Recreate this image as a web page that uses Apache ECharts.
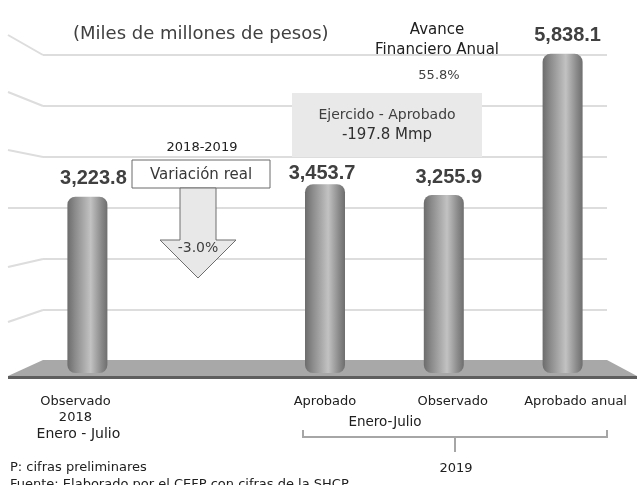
<!DOCTYPE html>
<html>
<head>
<meta charset="utf-8">
<script src="https://cdn.jsdelivr.net/npm/echarts@6/dist/echarts.min.js"></script>
<style>
  html, body { margin: 0; padding: 0; background: #fff; }
  #chart { width: 637px; height: 485px; }
</style>
</head>
<body>
<div id="chart"></div>
<script>
// categorias (la segunda queda vacia: ahi va la flecha de variacion)
const categories = ['Observado 2018', '', 'Aprobado', 'Observado', 'Aprobado anual']
const values = [3223.8, null, 3453.7, 3255.9, 5838.1]
const labelDistance = [8, 0, 1, 8, 8]
const labelShift = [6, 0, -3, 5, 5]
const wallTicks = [0, 1, 2, 3, 4, 5, 6] // lineas de la pared del fondo

const avanceTxt = '55.8%'
const diferenciaTxt = '-197.8 Mmp'
const variacionTxt = '-3.0%'

const font = "'DejaVu Sans', 'Noto Sans', sans-serif"
const txtColor = '#404040'

function fmt(v) {
  return v.toLocaleString('en-US', { minimumFractionDigits: 1, maximumFractionDigits: 1 })
}

const chart = echarts.init(document.getElementById('chart'))

const barData = values.map(function(v, i) {
  if (v === null) return '-'
  return { value: v, label: { distance: labelDistance[i], offset: [labelShift[i], 0] } }
})

chart.setOption({
  animation: false,
  title: {
    text: '(Miles de millones de pesos)',
    left: 68,
    top: 20,
    textStyle: { fontFamily: font, fontSize: 18, fontWeight: 'normal', color: txtColor }
  },
  grid: [
    { left: 28, right: 15, top: 45, bottom: 112 },
    { left: 43, right: 30, top: 55, bottom: 124 }
  ],
  xAxis: [{
    type: 'category',
    data: categories,
    gridIndex: 0,
    axisLine: { show: false },
    axisTick: { show: false },
    axisLabel: {
      interval: 0,
      margin: 21,
      formatter: function(v, i) {
        if (i === 0) return '{l|Observado}\n{l|2018}\n{c|Enero - Julio}'
        if (i === 3) return '{m|' + v + '}'
        if (i === 4) return '{r|' + v + '}'
        return '{a|' + v + '}'
      },
      rich: {
        a: { fontFamily: font, fontSize: 13, color: '#202020', lineHeight: 16 },
        l: { fontFamily: font, fontSize: 13, color: '#202020', lineHeight: 16, padding: [0, 24, 0, 0] },
        c: { fontFamily: font, fontSize: 14, color: '#202020', lineHeight: 16, padding: [0, 18, 0, 0] },
        m: { fontFamily: font, fontSize: 13, color: '#202020', lineHeight: 16, padding: [0, 0, 0, 18] },
        r: { fontFamily: font, fontSize: 13, color: '#202020', lineHeight: 16, padding: [0, 0, 0, 26] }
      }
    }
  }, {
    type: 'value',
    gridIndex: 1,
    show: false,
    min: 0,
    max: 1
  }],
  yAxis: [{
    type: 'value',
    gridIndex: 0,
    min: 0,
    max: 6000,
    show: false,
    splitLine: { show: false }
  }, {
    type: 'value',
    gridIndex: 1,
    min: wallTicks[0],
    max: wallTicks[wallTicks.length - 1],
    interval: 1,
    axisLine: { show: false },
    axisTick: { show: false },
    axisLabel: { show: false },
    splitLine: { lineStyle: { color: '#dddddd', width: 2 } }
  }],
  series: [{
    type: 'bar',
    xAxisIndex: 0,
    yAxisIndex: 0,
    barWidth: 40,
    data: barData,
    z: 3,
    itemStyle: {
      borderRadius: 8,
      color: new echarts.graphic.LinearGradient(0, 0, 1, 0, [
        { offset: 0, color: '#6c6c6c' },
        { offset: 0.2, color: '#8c8c8c' },
        { offset: 0.58, color: '#c2c2c2' },
        { offset: 0.85, color: '#8a8a8a' },
        { offset: 1, color: '#6e6e6e' }
      ])
    },
    label: {
      show: true,
      position: 'top',
      fontFamily: "'Liberation Sans', Arial, sans-serif",
      fontSize: 20,
      fontWeight: 'bold',
      color: txtColor,
      formatter: function(p) { return fmt(p.value) }
    }
  }],
  graphic: [
    // piso
    { type: 'polygon', z: 1, shape: { points: [[43, 360], [607, 360], [637, 376], [8, 376]] },
      style: { fill: '#a8a8a8' } },
    { type: 'rect', z: 1, shape: { x: 8, y: 376, width: 629, height: 3 }, style: { fill: '#5e5e5e' } },
    // esquinas de la pared
    { type: 'polyline', z: 1, shape: { points: [[8, 35], [43, 55]] }, style: { stroke: '#dddddd', lineWidth: 2 } },
    { type: 'polyline', z: 1, shape: { points: [[8, 92], [43, 106]] }, style: { stroke: '#dddddd', lineWidth: 2 } },
    { type: 'polyline', z: 1, shape: { points: [[8, 150], [43, 157]] }, style: { stroke: '#dddddd', lineWidth: 2 } },
    { type: 'polyline', z: 1, shape: { points: [[8, 208], [43, 208]] }, style: { stroke: '#dddddd', lineWidth: 2 } },
    { type: 'polyline', z: 1, shape: { points: [[8, 267], [43, 259]] }, style: { stroke: '#dddddd', lineWidth: 2 } },
    { type: 'polyline', z: 1, shape: { points: [[8, 322], [43, 310]] }, style: { stroke: '#dddddd', lineWidth: 2 } },

    // avance financiero
    { type: 'text', z: 10, style: { text: 'Avance', x: 437, y: 30, align: 'center', verticalAlign: 'middle',
      font: '15px ' + font, fill: '#202020' } },
    { type: 'text', z: 10, style: { text: 'Financiero Anual', x: 437, y: 50, align: 'center', verticalAlign: 'middle',
      font: '15px ' + font, fill: '#202020' } },
    { type: 'text', z: 10, style: { text: avanceTxt, x: 439, y: 76, align: 'center', verticalAlign: 'middle',
      font: '13px ' + font, fill: txtColor } },

    // caja ejercido - aprobado
    { type: 'rect', z: 5, shape: { x: 292, y: 93, width: 190, height: 64 }, style: { fill: '#e9e9e9' } },
    { type: 'text', z: 10, style: { text: 'Ejercido - Aprobado', x: 387, y: 115, align: 'center', verticalAlign: 'middle',
      font: '14px ' + font, fill: txtColor } },
    { type: 'text', z: 10, style: { text: diferenciaTxt, x: 387, y: 135, align: 'center', verticalAlign: 'middle',
      font: '15px ' + font, fill: '#303030' } },

    // variacion real
    { type: 'text', z: 10, style: { text: '2018-2019', x: 202, y: 148, align: 'center', verticalAlign: 'middle',
      font: '13px ' + font, fill: '#202020' } },
    { type: 'rect', z: 5, shape: { x: 132, y: 160, width: 138, height: 28 },
      style: { fill: '#fff', stroke: '#6a6a6a', lineWidth: 1 } },
    { type: 'text', z: 10, style: { text: 'Variación real', x: 201, y: 175, align: 'center', verticalAlign: 'middle',
      font: '15px ' + font, fill: '#383838' } },
    { type: 'polygon', z: 5,
      shape: { points: [[180, 188], [216, 188], [216, 240], [236, 240], [198, 278], [160, 240], [180, 240]] },
      style: { fill: '#e8e8e8', stroke: '#6e6e6e', lineWidth: 1 } },
    { type: 'text', z: 10, style: { text: variacionTxt, x: 198, y: 248, align: 'center', verticalAlign: 'middle',
      font: '14px ' + font, fill: txtColor } },

    // llave 2019
    { type: 'text', z: 10, style: { text: 'Enero-Julio', x: 385, y: 422, align: 'center', verticalAlign: 'middle',
      font: '13.5px ' + font, fill: '#202020' } },
    { type: 'polyline', z: 5, shape: { points: [[303, 430], [303, 437], [607, 437], [607, 430]] },
      style: { stroke: '#a6a6a6', lineWidth: 2, fill: null } },
    { type: 'polyline', z: 5, shape: { points: [[455, 437], [455, 452]] },
      style: { stroke: '#a6a6a6', lineWidth: 2 } },
    { type: 'text', z: 10, style: { text: '2019', x: 456, y: 469, align: 'center', verticalAlign: 'middle',
      font: '13px ' + font, fill: '#202020' } },

    // notas
    { type: 'text', z: 10, style: { text: 'P: cifras preliminares', x: 10, y: 468, verticalAlign: 'middle',
      font: '13px ' + font, fill: '#202020' } },
    { type: 'text', z: 10, style: { text: 'Fuente: Elaborado por el CEFP con cifras de la SHCP.', x: 10, y: 485, verticalAlign: 'middle',
      font: '13px ' + font, fill: '#202020' } }
  ]
})
</script>
</body>
</html>
